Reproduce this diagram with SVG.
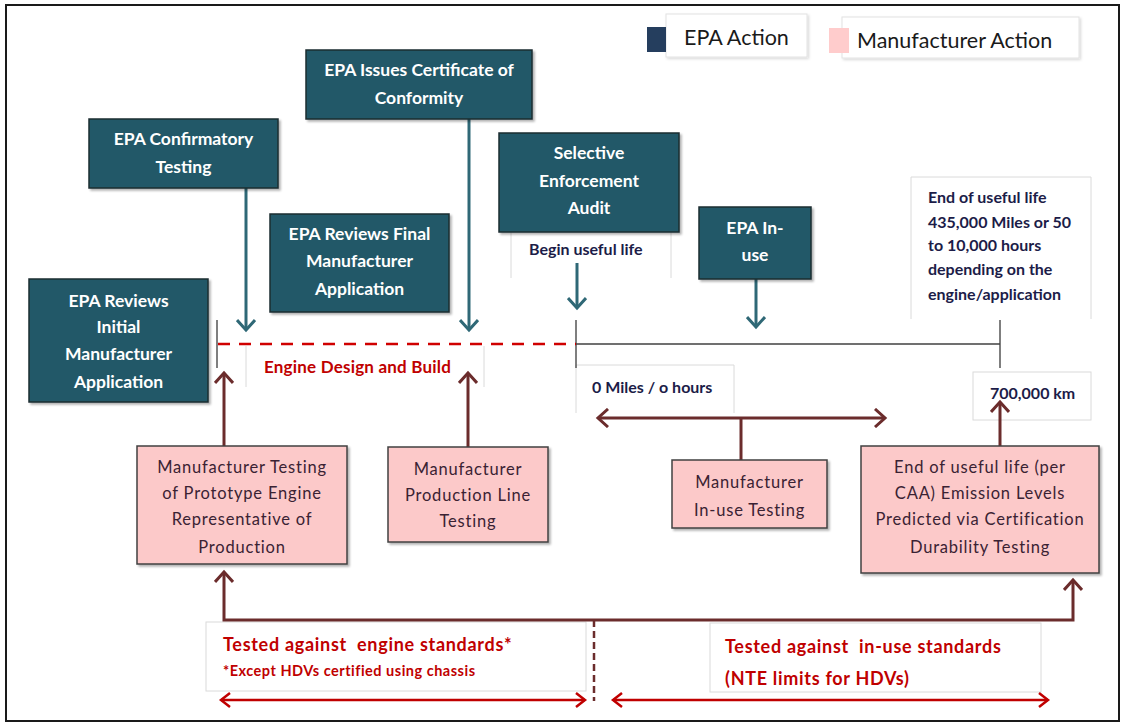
<svg xmlns="http://www.w3.org/2000/svg" width="1123" height="725" viewBox="0 0 1123 725">
<defs>
<style>
.frame{fill:#fff;stroke:#1a1a1a;stroke-width:2}
.epa rect{fill:#215968;stroke:#1b2c31;stroke-width:1.5;filter:url(#sh)}
.epa text{fill:#fff;font-family:Lato,"Liberation Sans",sans-serif;font-weight:bold;font-size:17.5px;text-anchor:middle}
.mfr rect{fill:#fcc9c9;stroke:#404040;stroke-width:1.5;filter:url(#sh)}
.mfr text{fill:#3a2233;font-family:Lato,"Liberation Sans",sans-serif;font-size:16.5px;letter-spacing:0.8px;text-anchor:middle}
.faint{fill:none;stroke:#dadada;stroke-width:1}
.boxw{fill:#fff;stroke:#dadada;stroke-width:1}
.lbl{fill:#1c1c48;font-family:Lato,"Liberation Sans",sans-serif;font-weight:bold;font-size:16px}
.red{fill:#c00000;font-family:Lato,"Liberation Sans",sans-serif;font-weight:bold;font-size:18px;letter-spacing:0.7px;white-space:pre}
.leg{fill:#1a1a1a;font-family:Lato,"Liberation Sans",sans-serif;font-size:21.5px}
.teal{stroke:#2f6876;stroke-width:3;fill:none}
.mar{stroke:#6b2c2c;stroke-width:3;fill:none}
.redl{stroke:#c00000;stroke-width:2.5;fill:none}
.tick{stroke:#555;stroke-width:1.5;fill:none}
</style>
<filter id="sh" x="-10%" y="-10%" width="130%" height="130%"><feDropShadow dx="2" dy="2" stdDeviation="1" flood-color="#000" flood-opacity="0.3"/></filter>
<filter id="shl" x="-10%" y="-10%" width="130%" height="130%"><feDropShadow dx="1.5" dy="1.5" stdDeviation="1" flood-color="#000" flood-opacity="0.15"/></filter>
<marker id="aT" viewBox="0 0 20 20" markerWidth="20" markerHeight="20" refX="17" refY="10" orient="auto-start-reverse" markerUnits="userSpaceOnUse"><path d="M7,1 L17,10 L7,19" fill="none" stroke="#2f6876" stroke-width="3"/></marker>
<marker id="aM" viewBox="0 0 20 20" markerWidth="20" markerHeight="20" refX="17" refY="10" orient="auto-start-reverse" markerUnits="userSpaceOnUse"><path d="M7,1 L17,10 L7,19" fill="none" stroke="#6b2c2c" stroke-width="3"/></marker>
<marker id="aR" viewBox="0 0 20 20" markerWidth="20" markerHeight="20" refX="17" refY="10" orient="auto-start-reverse" markerUnits="userSpaceOnUse"><path d="M8,3 L17,10 L8,17" fill="none" stroke="#c00000" stroke-width="2.5"/></marker>
</defs>

<rect class="frame" x="6" y="5" width="1113" height="716"/>

<g id="legend">
  <rect x="666" y="14" width="141" height="43" fill="#fff" stroke="#e2e2e2" filter="url(#shl)"/>
  <rect x="647" y="27" width="19" height="25" fill="#253e5e"/>
  <text class="leg" x="684" y="45">EPA Action</text>
  <rect x="842" y="17" width="237" height="41" fill="#fff" stroke="#e2e2e2" filter="url(#shl)"/>
  <rect x="829" y="28" width="20" height="25" fill="#ffcccc"/>
  <text class="leg" x="857" y="48">Manufacturer Action</text>
</g>

<g id="labels">
  <g id="lbl-begin"><path class="faint" d="M511,232 V278 M671,232 V278"/><text class="lbl" x="529" y="255">Begin useful life</text></g>
  <g id="lbl-end">
    <path class="faint" d="M911,319 V177 H1091 V319"/>
    <text class="lbl" x="928" y="203">End of useful life</text>
    <text class="lbl" x="928" y="228">435,000 Miles or 50</text>
    <text class="lbl" x="928" y="251">to 10,000 hours</text>
    <text class="lbl" x="928" y="275">depending on the</text>
    <text class="lbl" x="928" y="300">engine/application</text>
  </g>
  <g id="lbl-design"><path class="faint" d="M246,346 V387 M484,346 V387"/><text class="red" x="264" y="373" style="font-size:17px;letter-spacing:0.2px">Engine Design and Build</text></g>
  <g id="lbl-zero"><path class="faint" d="M576,413 V365 H734 V413"/><text class="lbl" x="592" y="393">0 Miles / o hours</text></g>
  <g id="lbl-km"><rect class="boxw" x="973" y="372" width="118" height="48"/><text class="lbl" x="990" y="399">700,000 km</text></g>
  <g id="lbl-engine-std"><rect class="boxw" x="206" y="622" width="380" height="69"/>
    <text class="red" x="223" y="651">Tested against  engine standards*</text>
    <text class="red" x="223" y="676" style="font-size:14.5px;letter-spacing:0.5px">*Except HDVs certified using chassis</text></g>
  <g id="lbl-inuse-std"><rect class="boxw" x="710" y="623" width="331" height="69"/>
    <text class="red" x="725" y="653">Tested against  in-use standards</text>
    <text class="red" x="725" y="685">(NTE limits for HDVs)</text></g>
</g>

<g id="timeline">
  <path class="tick" d="M217,320 V368 M576,320 V368 M1000,320 V368"/>
  <path d="M218,344 H576" stroke="#d00000" stroke-width="2.5" stroke-dasharray="12 9" fill="none"/>
  <path d="M576,344 H1000" stroke="#404040" stroke-width="1.5" fill="none"/>
</g>

<g id="connectors">
  <path class="teal" d="M246,188 V330" marker-end="url(#aT)"/>
  <path class="teal" d="M469,119 V330" marker-end="url(#aT)"/>
  <path class="teal" d="M577,263 V308" marker-end="url(#aT)"/>
  <path class="teal" d="M756,279 V327" marker-end="url(#aT)"/>
  <path class="mar" d="M224,446 V373" marker-end="url(#aM)"/>
  <path class="mar" d="M468,447 V373" marker-end="url(#aM)"/>
  <path class="mar" d="M598,418 H885" marker-start="url(#aM)" marker-end="url(#aM)"/>
  <path class="mar" d="M741,418 V460"/>
  <path class="mar" d="M1000,446 V402" marker-end="url(#aM)"/>
  <path class="mar" d="M224,572 V620 H1073 V580" marker-start="url(#aM)" marker-end="url(#aM)"/>
  <path d="M594,620 V701" stroke="#6b2c2c" stroke-width="2.5" stroke-dasharray="7 4" fill="none"/>
  <path class="redl" d="M221,700 H585" marker-start="url(#aR)" marker-end="url(#aR)"/>
  <path class="redl" d="M613,700 H1048" marker-start="url(#aR)" marker-end="url(#aR)"/>
</g>

<g id="epa-issues" class="epa"><rect x="306" y="50" width="226" height="69"/><text x="419" y="76">EPA Issues Certificate of</text><text x="419" y="104">Conformity</text></g>
<g id="epa-confirmatory" class="epa"><rect x="89" y="119" width="189" height="69"/><text x="183.5" y="145">EPA Confirmatory</text><text x="183.5" y="173">Testing</text></g>
<g id="epa-sea" class="epa"><rect x="499" y="133" width="180" height="99"/><text x="589" y="159">Selective</text><text x="589" y="187">Enforcement</text><text x="589" y="214">Audit</text></g>
<g id="epa-final" class="epa"><rect x="270" y="214" width="179" height="98"/><text x="359.5" y="240">EPA Reviews Final</text><text x="359.5" y="267">Manufacturer</text><text x="359.5" y="295">Application</text></g>
<g id="epa-initial" class="epa"><rect x="29" y="279" width="179" height="123"/><text x="118.5" y="307">EPA Reviews</text><text x="118.5" y="333">Initial</text><text x="118.5" y="360">Manufacturer</text><text x="118.5" y="388">Application</text></g>
<g id="epa-inuse" class="epa"><rect x="699" y="207" width="112" height="72"/><text x="755" y="234">EPA In-</text><text x="755" y="261">use</text></g>

<g id="mfr-prototype" class="mfr"><rect x="137" y="446" width="210" height="118"/><text x="242" y="473">Manufacturer Testing</text><text x="242" y="499">of Prototype Engine</text><text x="242" y="525">Representative of</text><text x="242" y="553">Production</text></g>
<g id="mfr-production" class="mfr"><rect x="388" y="447" width="160" height="95"/><text x="468" y="475">Manufacturer</text><text x="468" y="501">Production Line</text><text x="468" y="527">Testing</text></g>
<g id="mfr-inuse" class="mfr"><rect x="672" y="460" width="155" height="68"/><text x="749.5" y="488">Manufacturer</text><text x="749.5" y="516">In-use Testing</text></g>
<g id="mfr-durability" class="mfr"><rect x="861" y="446" width="238" height="127"/><text x="980" y="473">End of useful life (per</text><text x="980" y="499">CAA) Emission Levels</text><text x="980" y="525">Predicted via Certification</text><text x="980" y="553">Durability Testing</text></g>
</svg>
